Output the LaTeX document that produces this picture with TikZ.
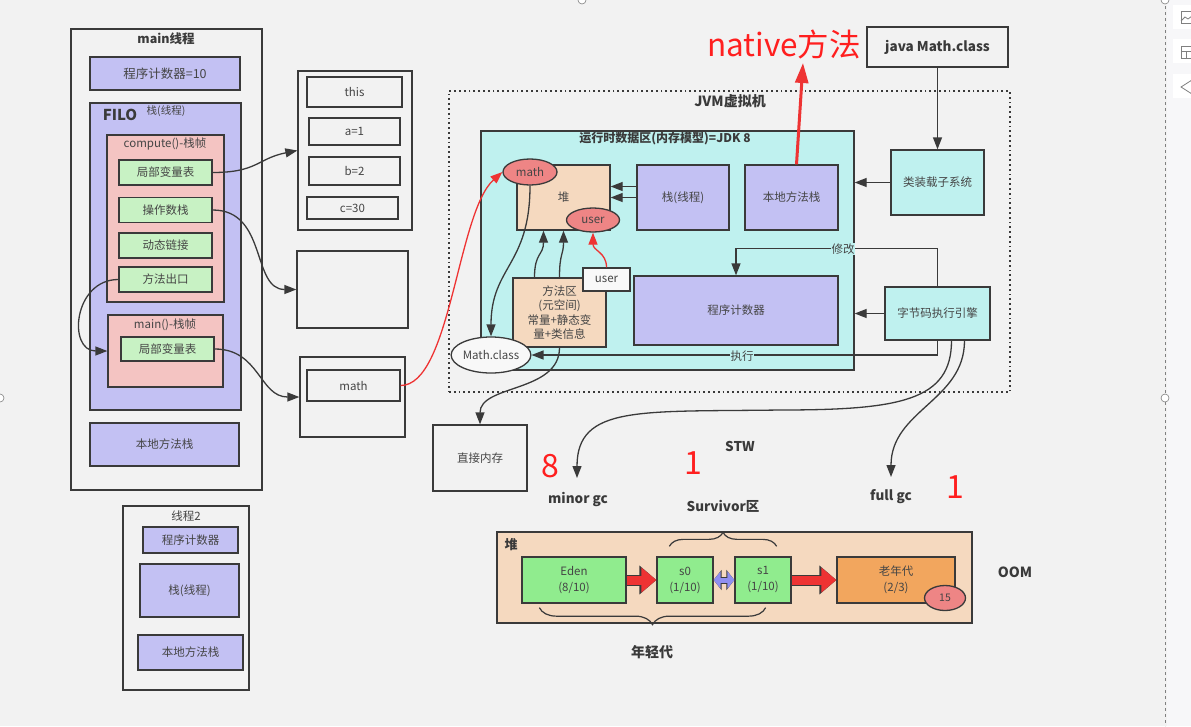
\documentclass[tikz,border=0pt]{standalone}
\usepackage{fontspec}
\setmainfont{Noto Sans CJK SC}
\usetikzlibrary{arrows.meta}
\usetikzlibrary{shapes.geometric}
\usetikzlibrary{decorations.pathreplacing}
\usetikzlibrary{calc}

\definecolor{bgc}{HTML}{F2F2F2}
\definecolor{uibg}{HTML}{F7F7F9}
\definecolor{lc}{HTML}{3A3A3A}
\definecolor{tc}{HTML}{454545}
\definecolor{lav}{HTML}{C3C1F3}
\definecolor{pinkc}{HTML}{F4C4C2}
\definecolor{greenc}{HTML}{C8F2C4}
\definecolor{edenc}{HTML}{90EC8E}
\definecolor{cyanc}{HTML}{BFF1EF}
\definecolor{peachc}{HTML}{F5D9BF}
\definecolor{oldc}{HTML}{F2A65E}
\definecolor{salmonc}{HTML}{EE8585}
\definecolor{redt}{HTML}{FF1F1F}
\definecolor{redl}{HTML}{EE3333}
\definecolor{bluea}{HTML}{8F8FF0}
\definecolor{whitec}{HTML}{F8F8F8}

\tikzset{
  wh/.style 2 args={minimum width=#1pt, minimum height=#2pt},
  box/.style={draw=lc, line width=1.3pt, inner sep=0pt, text=tc, align=center,
    font=\fontsize{11.5}{14.5}\selectfont},
  outerbox/.style={draw=lc, line width=1.3pt, inner sep=0pt},
  oval/.style={ellipse, draw=lc, line width=1.3pt, inner sep=0pt, text=tc,
    font=\fontsize{11.5}{14}\selectfont},
  ttl/.style={text=lc, inner sep=0pt, font=\bfseries\fontsize{12.5}{15}\selectfont},
  lbl/.style={text=tc, inner sep=1pt, font=\fontsize{11.5}{14}\selectfont},
  rednum/.style={text=redt, inner sep=0pt, font=\fontsize{32}{36}\selectfont},
  con/.style={draw=lc, line width=1.3pt, -{Triangle[length=12pt,width=9pt]}},
  redcon/.style={con, draw=redl},
  fatred/.style={draw=redl, line width=9pt, -{Triangle[length=15pt,width=24pt]},
    preaction={draw=lc, line width=11pt, -{Triangle[length=17pt,width=28pt]}}},
  fatblue/.style={draw=bluea, line width=5pt,
    {Triangle[length=7pt,width=17pt]}-{Triangle[length=7pt,width=17pt]},
    preaction={draw=lc, line width=7pt, {Triangle[length=8pt,width=20pt]}-{Triangle[length=8pt,width=20pt]}}},
  brc/.style={draw=lc, line width=1.2pt, decorate}
}

\begin{document}
\begin{tikzpicture}[x=1pt,y=-1pt]
\useasboundingbox (0,0) rectangle (1191,726);
\fill[bgc] (0,0) rectangle (1191,726);
\fill[uibg] (1167,0) rectangle (1191,726);
\draw[gray, dashed, line width=0.6pt] (1165,0) -- (1165,726);
\foreach \y in {5,39,74}
  \fill[white] (1173,\y) rectangle (1191,\y+24);
\draw[gray, line width=0.8pt] (1181,11) rectangle (1192,23);
\draw[gray, line width=0.8pt] (1181,21) -- (1185,17) -- (1188,19) -- (1192,16);
\draw[gray, line width=0.8pt] (1181,46) rectangle (1192,58) (1181,51) -- (1192,51) (1186,51) -- (1186,58);
\draw[gray, line width=0.8pt] (1192,80) -- (1181,87) -- (1192,94);
\foreach \p in {(582,0),(1165,0),(0,398),(1165,398)}
  \filldraw[fill=white, draw=gray, line width=0.6pt] \p circle (4pt);

% main thread
\node[outerbox, wh={191}{461}] (mainT) at (166.5,259.5) {};
\node[ttl] (mainTtl) at (166,39) {main线程};
\node[box, fill=lav, wh={150}{33}, font=\fontsize{12.5}{15}\selectfont] (pc10) at (165,73.5) {程序计数器=10};
\node[box, fill=lav, wh={151}{307}] (stackT) at (165.5,256.5) {};
\node[ttl, font=\bfseries\fontsize{15}{18}\selectfont] (filo) at (120,115) {FILO};
\node[lbl, font=\fontsize{10.5}{12}\selectfont] (stackTLbl) at (166,111) {栈(线程)};
\node[box, fill=pinkc, wh={117}{167}] (computeF) at (165.5,218.5) {};
\node[lbl] (computeLbl) at (165,144) {compute()-栈帧};
\foreach \nm/\yy/\txt in {lvt1/172.5/局部变量表, ops/210/操作数栈, dyn/245.5/动态链接, exitM/279.5/方法出口}
  \node[box, fill=greenc, wh={93}{25}] (\nm) at (165.5,\yy) {\txt};
\node[box, fill=pinkc, wh={115}{72}] (mainF) at (165.5,351) {};
\node[lbl] (mainFLbl) at (165,325) {main()-栈帧};
\node[box, fill=greenc, wh={93}{24}] (lvt2) at (167.5,349) {局部变量表};
\node[box, fill=lav, wh={149}{43}] (nstack1) at (164.5,444.5) {本地方法栈};

% thread 2
\node[outerbox, wh={126}{184}] (thread2) at (186,598) {};
\node[lbl] (t2Lbl) at (186,516) {线程2};
\node[box, fill=lav, wh={95}{26}] (pc2) at (190.5,540) {程序计数器};
\node[box, fill=lav, wh={99}{53}] (stack2) at (189.5,590.5) {栈(线程)};
\node[box, fill=lav, wh={105}{35}] (nstack2) at (190.5,652.5) {本地方法栈};

% local variables
\node[outerbox, wh={114}{159}] (frameL) at (355,150.5) {};
\node[box, wh={95}{30}] (vThis) at (354.5,92) {this};
\node[box, wh={91}{27}] (vA) at (354.5,131.5) {a=1};
\node[box, wh={91}{28}] (vB) at (354.5,171) {b=2};
\node[box, wh={91}{22}] (vC) at (352.5,208) {c=30};
\node[outerbox, wh={111}{77}] (emptyB) at (352.5,289.5) {};
\node[outerbox, wh={105}{80}] (mathFrame) at (352.5,397) {};
\node[box, wh={93}{31}] (mathRef) at (353.5,385.5) {math};

% jvm
\node[draw=lc, line width=1.8pt, dash pattern=on 1.8pt off 3pt, inner sep=0pt, wh={561}{301}] (jvm) at (729.5,241.5) {};
\node[ttl, font=\bfseries\fontsize{14}{17}\selectfont] (jvmLbl) at (730,101) {JVM虚拟机};
\node[box, fill=cyanc, wh={373}{239}] (rda) at (667.5,250.5) {};
\node[ttl, font=\bfseries\fontsize{12}{14}\selectfont] (rdaLbl) at (665,139) {运行时数据区(内存模型)=JDK 8};
\node[box, fill=peachc, wh={93}{65}] (heapA) at (563.5,197.5) {堆};
\node[oval, fill=salmonc, wh={54}{26}] (mathE) at (530,172) {math};
\node[oval, fill=salmonc, wh={53}{24}] (userE) at (593,220) {user};
\node[box, fill=lav, wh={92}{65}] (stackA) at (683,197.5) {栈(线程)};
\node[box, fill=lav, wh={93}{65}] (nstackA) at (791.5,197.5) {本地方法栈};
\node[box, fill=peachc, wh={93}{69}] (methodA) at (559.5,312.5) {方法区\\(元空间)\\常量+静态变\\量+类信息};
\node[box, fill=whitec, wh={47}{23}] (userB) at (606.5,279.5) {user};
\node[box, fill=lav, wh={204}{69}] (pcA) at (736,310.5) {程序计数器};
\node[oval, fill=whitec, wh={78}{36}] (mathCls) at (491,355) {Math.class};
\node[box, fill=cyanc, wh={93}{65}] (loader) at (937.5,182.5) {类装载子系统};
\node[box, fill=cyanc, wh={105}{53}] (engine) at (937.5,313.5) {字节码执行引擎};
\node[box, wh={141}{40}, text=lc, font=\bfseries\fontsize{13.5}{16}\selectfont] (javaM) at (937.5,47) {java Math.class};
\node[box, wh={94}{66}] (direct) at (480,458) {直接内存};
\node[text=redt, inner sep=0pt, font=\fontsize{31.5}{35}\selectfont] (native) at (784,44) {native方法};
\coordinate (nativeTip) at (803,63);

% arrows
\draw[con] (lvt1.east) .. controls +(45,0) and +(-40,8) .. (frameL.west);
\draw[con] (ops.east) .. controls +(55,0) and +(-45,0) .. (emptyB.west);
\draw[con] (exitM.west) .. controls +(-45,0) and +(-40,0) .. (mainF.west);
\draw[con] (lvt2.east) .. controls +(45,0) and +(-40,0) .. (mathFrame.west);
\draw[redcon] (mathRef.east) .. controls +(50,0) and +(-45,40) .. (mathE.west);
\draw[con] (mathE.south) .. controls +(0,80) and +(0,-70) .. (mathCls.north);
\draw[con] ([yshift=11pt]stackA.west) -- ([yshift=11pt]heapA.east);
\draw[con] (stackA.west) -- (heapA.east);
\draw[con] ([xshift=-25pt]methodA.north) .. controls +(0,-25) and +(0,25) .. ([xshift=-20pt]heapA.south);
\draw[con] (methodA.north) .. controls +(0,-25) and +(0,25) .. (heapA.south);
\draw[redcon] (userB.north) .. controls +(0,-15) and +(0,18) .. (userE.south);
\draw[redl, line width=3pt, -{Triangle[length=20pt,width=13pt]}] ([xshift=5pt]nstackA.north) -- (nativeTip);
\draw[con] (javaM.south) -- (loader.north);
\draw[con] (loader.west) -- (loader.west -| rda.east);
\draw[con] (engine.west) -- (engine.west -| rda.east);
\draw[con] (engine.north) -- ++(0,-38) -| (pcA.north);
\draw[con] (engine.south) |- (mathCls.east);
\draw[con] (methodA.south) .. controls +(0,45) and +(0,-40) .. (direct.north);
\node[lbl, fill=cyanc, inner sep=0.5pt] (modLbl) at (843,249) {修改};
\node[lbl, fill=cyanc, inner sep=0.5pt] (execLbl) at (742,356) {执行};

% gc
\coordinate (minorTip) at (577,478);
\coordinate (fullTip) at (891,477);
\draw[con] ([xshift=14pt]engine.south) .. controls +(0,60) and (900,410) .. (780,410)
  .. controls (640,412) and (577,405) .. (minorTip);
\draw[con] ([xshift=27pt]engine.south) .. controls +(0,60) and +(0,-67) .. (fullTip);
\node[ttl, font=\bfseries\fontsize{13.5}{16}\selectfont] (stw) at (740,446) {STW};
\node[rednum] (eight) at (550,466) {8};
\node[rednum] (oneA) at (693,463) {1};
\node[rednum] (oneB) at (955,487) {1};
\node[ttl, font=\bfseries\fontsize{13.5}{16}\selectfont] (minorLbl) at (578,499) {minor gc};
\node[ttl, font=\bfseries\fontsize{13.5}{16}\selectfont] (survLbl) at (723,506) {Survivor区};
\node[ttl, font=\bfseries\fontsize{13.5}{16}\selectfont] (fullLbl) at (891,497) {full gc};

% heap
\node[box, fill=peachc, wh={475}{91}] (heapB) at (734.5,577.5) {};
\node[ttl, font=\bfseries\fontsize{13}{15}\selectfont] (heapBLbl) at (511,545) {堆};
\node[box, fill=edenc, wh={104}{46}, font=\fontsize{11.5}{16}\selectfont] (eden) at (574,580) {Eden\\(8/10)};
\node[box, fill=edenc, wh={56}{46}, font=\fontsize{11.5}{16}\selectfont] (s0) at (685,580) {s0\\(1/10)};
\node[box, fill=edenc, wh={56}{46}, font=\fontsize{11.5}{16}\selectfont] (s1) at (763,580) {s1\\(1/10)};
\node[box, fill=oldc, wh={118}{46}, font=\fontsize{11.5}{16}\selectfont] (old) at (896,580) {老年代\\(2/3)};
\node[oval, fill=salmonc, wh={41}{25}, font=\fontsize{10.5}{12}\selectfont] (age) at (945,598) {15};
\draw[fatred] (eden.east) -- (s0.west);
\draw[fatred] (s1.east) -- (old.west);
\draw[fatblue] (s0.east) -- (s1.west);
\draw[brc, decoration={brace, amplitude=14pt}] ([xshift=13pt,yshift=10pt]s0.north west) -- ([xshift=-15pt,yshift=10pt]s1.north east);
\draw[brc, decoration={brace, mirror, amplitude=17pt}] ([xshift=18pt,yshift=-4pt]eden.south west) -- ([xshift=-26pt,yshift=-4pt]s1.south east);
\node[ttl, font=\bfseries\fontsize{14}{16}\selectfont] (youngLbl) at (652,652) {年轻代};
\node[ttl, font=\bfseries\fontsize{14}{16}\selectfont] (oomLbl) at (1015,572) {OOM};

\end{tikzpicture}
\end{document}
